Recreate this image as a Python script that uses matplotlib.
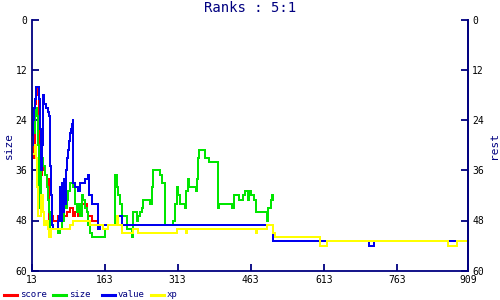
import matplotlib
matplotlib.use("Agg")
import matplotlib.pyplot as plt
from matplotlib.lines import Line2D

# rank history per stat (x = turn, y = rank), stepped
score_x = [13, 14, 16, 20, 22, 26, 28, 30, 33, 35, 37, 39, 41, 45, 49, 53, 57, 67, 72, 78,
           86, 92, 98, 102, 108, 117, 127, 129, 137, 150, 154]
score_y = [32, 27, 33, 20, 16, 18, 36, 35, 37, 34, 36, 35, 37, 38, 48, 47, 48, 47, 48, 47,
           46, 45, 47, 46, 47, 44, 46, 47, 48, 49, 49]

size_x = [13, 14, 15, 16, 17, 18, 20, 22, 24, 26, 28, 30, 33, 35, 37, 41, 45, 47, 49, 51,
          67, 72, 76, 80, 84, 86, 88, 92, 98, 99, 102, 106, 110, 113, 117, 119, 123, 127, 129, 133,
          137, 164, 170, 184, 189, 191, 195, 199, 209, 219, 221, 230, 232, 236, 240, 242, 256, 260, 262, 277,
          281, 287, 304, 308, 312, 314, 318, 328, 330, 334, 336, 351, 353, 355, 357, 369, 377, 396, 398, 425,
          429, 439, 447, 451, 457, 459, 464, 470, 474, 496, 499, 505, 507, 509]
size_y = [17, 22, 29, 24, 21, 27, 22, 21, 23, 30, 45, 44, 32, 33, 35, 37, 40, 43, 46, 50,
          51, 50, 48, 42, 45, 43, 41, 39, 36, 40, 44, 46, 44, 47, 42, 43, 45, 46, 49, 51,
          52, 50, 49, 37, 40, 42, 44, 47, 50, 52, 46, 48, 47, 46, 45, 43, 44, 40, 36, 37,
          39, 49, 48, 44, 40, 42, 44, 45, 41, 38, 40, 41, 38, 33, 31, 33, 34, 45, 44, 45,
          42, 43, 42, 41, 43, 41, 42, 43, 46, 48, 45, 43, 42, 43]

value_x = [13, 14, 16, 18, 20, 23, 28, 29, 30, 33, 35, 37, 39, 43, 47, 49, 51, 53, 55, 57,
           67, 70, 72, 74, 76, 78, 80, 82, 84, 86, 88, 90, 92, 94, 96, 98, 99, 102, 108, 113,
           123, 129, 131, 137, 150, 154, 189, 199, 509, 706, 716, 909]
value_y = [38, 30, 24, 21, 19, 16, 16, 19, 26, 36, 30, 18, 20, 21, 22, 23, 35, 42, 49, 50,
           48, 47, 40, 48, 39, 46, 38, 44, 36, 33, 31, 29, 27, 26, 25, 24, 39, 40, 41, 39,
           38, 37, 42, 44, 50, 49, 47, 49, 53, 54, 53, 53]

xp_x = [13, 14, 20, 22, 24, 26, 30, 33, 36, 38, 43, 47, 49, 53, 92, 98, 133, 160, 170, 189,
        191, 199, 221, 232, 312, 330, 333, 474, 476, 496, 509, 513, 605, 620, 868, 887, 909]
xp_y = [28, 32, 30, 33, 40, 47, 47, 42, 46, 49, 48, 50, 52, 50, 49, 48, 49, 50, 49, 47,
        49, 51, 50, 51, 50, 51, 50, 51, 50, 49, 51, 52, 54, 53, 54, 53, 53]

series_names = ["score", "size", "value", "xp"]
series_colors = ["#ff0000", "#00e600", "#0000ee", "#ffff00"]

x_ticks = [13, 163, 313, 463, 613, 763, 909]
y_ticks = [0, 12, 24, 36, 48, 60]

navy = "#000080"
mono = "DejaVu Sans Mono"

fig = plt.figure(figsize=(5, 3), dpi=100)
ax = fig.add_axes([0.063, 0.098, 0.873, 0.835])

all_x = [score_x, size_x, value_x, xp_x]
all_y = [score_y, size_y, value_y, xp_y]
for xs, ys, name, col in zip(all_x, all_y, series_names, series_colors):
    ax.plot(xs, ys, drawstyle="steps-post", color=col, lw=1.2, label=name,
            antialiased=False)

ax.set_xlim(13, 909)
ax.set_ylim(60, 0)
ax.set_xticks(x_ticks)
ax.set_yticks(y_ticks)
ax.spines["top"].set_visible(False)
for s in ["left", "right", "bottom"]:
    ax.spines[s].set_color(navy)
    ax.spines[s].set_linewidth(1.3)
ax.tick_params(direction="in", length=5, width=1.3, color=navy, labelsize=7,
               labelcolor="black", pad=3)
for lab in ax.get_xticklabels() + ax.get_yticklabels():
    lab.set_family(mono)
ax.set_ylabel("size", color=navy, fontsize=8, family=mono, va="center")
ax.yaxis.set_label_coords(-0.052, 0.5)

ax2 = ax.twinx()
ax2.set_ylim(60, 0)
ax2.set_yticks(y_ticks)
for s in ["top", "left", "bottom"]:
    ax2.spines[s].set_visible(False)
ax2.spines["right"].set_color(navy)
ax2.spines["right"].set_linewidth(1.3)
ax2.tick_params(direction="in", length=5, width=1.3, color=navy, labelsize=7,
                labelcolor="black", pad=3)
for lab in ax2.get_yticklabels():
    lab.set_family(mono)
ax2.set_ylabel("rest", color=navy, fontsize=8, family=mono, va="center")
ax2.yaxis.set_label_coords(1.06, 0.5)

fig.suptitle("Ranks : 5:1", color=navy, fontsize=10, family=mono, y=0.995)

# legend row along the bottom edge
for i, (name, col) in enumerate(zip(series_names, series_colors)):
    x0 = (4 + 49 * i) / 500
    fig.add_artist(Line2D([x0, x0 + 13 / 500], [0.017, 0.017], color=col, lw=2.2,
                          transform=fig.transFigure))
    fig.text(x0 + 16 / 500, 0.017, name, color=navy, fontsize=6.5, family=mono,
             va="center", ha="left")

fig.savefig("out.png", dpi=100)
